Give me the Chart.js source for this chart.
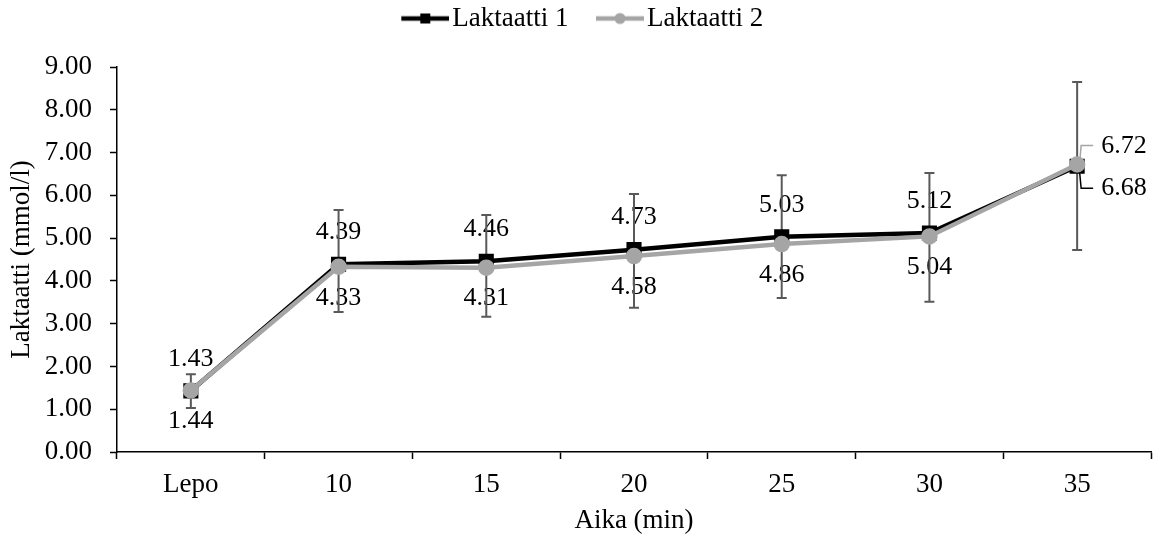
<!DOCTYPE html>
<html>
<head>
<meta charset="utf-8">
<script src="https://cdn.jsdelivr.net/npm/chart.js@4.4.0/dist/chart.umd.min.js"></script>
<style>
  body{margin:0;background:#fff;}
  #wrap{width:1163px;height:537px;position:relative;}
</style>
</head>
<body>
<div id="wrap"><canvas id="chart"></canvas></div>
<script>
// data
const categories = ['Lepo','10','15','20','25','30','35'];
const laktaatti1 = [1.43, 4.39, 4.46, 4.73, 5.03, 5.12, 6.68];
const laktaatti2 = [1.44, 4.33, 4.31, 4.58, 4.86, 5.04, 6.72];
const errHigh = [1.82, 5.66, 5.54, 6.03, 6.47, 6.52, 8.65];
const errLow  = [1.03, 3.27, 3.16, 3.37, 3.60, 3.51, 4.72];
const yTicks = [0,1,2,3,4,5,6,7,8,9];

const FONT = "'Liberation Serif', 'Times New Roman', serif";
const FSIZE = 27;
const BLACK = '#000000';
const GRAY = '#a5a5a5';
const ERRCOL = '#595959';

// legend sample: line with marker, drawn at the right side of a wider canvas
function legendIcon(color, style){
    const c = document.createElement('canvas');
    c.width = 81; c.height = 14;
    const g = c.getContext('2d');
    g.strokeStyle = color;
    g.lineWidth = 4.5;
    g.beginPath(); g.moveTo(33,7); g.lineTo(81,7); g.stroke();
    g.fillStyle = color;
    if(style == 'rect'){
        g.fillRect(52,2,10,10);
    }else{
        g.beginPath(); g.arc(57,7,5.5,0,Math.PI*2); g.fill();
    }
    return c;
}
const icon1 = legendIcon(BLACK,'rect');
const icon2 = legendIcon(GRAY,'circle');

// more room under the legend, and nudge it left a bit
const legendSpace = {
    id: 'legendSpace',
    beforeInit(chart){
        const fit = chart.legend.fit;
        chart.legend.fit = function(){
            fit.call(this);
            this.height += 25;
        };
    },
    afterLayout(chart){
        chart.legend.left -= 9;
        chart.legend.right -= 9;
    }
};

const extras = {
    id: 'extras',
    beforeDatasetsDraw(chart){
        const ctx = chart.ctx;
        const x = chart.scales.x, y = chart.scales.y;
        ctx.save();
        // data labels
        ctx.font = '26px ' + FONT;
        ctx.fillStyle = '#000';
        ctx.textBaseline = 'middle';
        const last = categories.length - 1;
        for(let i = 0; i < categories.length; i++){
            const px = x.getPixelForValue(i);
            const p1 = y.getPixelForValue(laktaatti1[i]);
            const p2 = y.getPixelForValue(laktaatti2[i]);
            if(i == last){
                ctx.textAlign = 'left';
                ctx.lineWidth = 1.5;
                ctx.strokeStyle = GRAY;
                ctx.beginPath();
                ctx.moveTo(px+2, p2+4); ctx.lineTo(px+4, p2-19); ctx.lineTo(px+16, p2-19);
                ctx.stroke();
                ctx.fillText(laktaatti2[i].toFixed(2), px+24, p2-18);
                ctx.strokeStyle = BLACK;
                ctx.beginPath();
                ctx.moveTo(px+2, p1+1); ctx.lineTo(px+4, p1+22); ctx.lineTo(px+16, p1+22);
                ctx.stroke();
                ctx.fillText(laktaatti1[i].toFixed(2), px+24, p1+22);
            }else{
                ctx.textAlign = 'center';
                ctx.fillText(laktaatti1[i].toFixed(2), px, p1-32);
                ctx.fillText(laktaatti2[i].toFixed(2), px, p2+31);
            }
        }
        // error bars
        ctx.strokeStyle = ERRCOL;
        ctx.lineWidth = 2;
        for(let i = 0; i < categories.length; i++){
            const px = x.getPixelForValue(i);
            const hi = y.getPixelForValue(errHigh[i]);
            const lo = y.getPixelForValue(errLow[i]);
            ctx.beginPath();
            ctx.moveTo(px, hi); ctx.lineTo(px, lo);
            ctx.moveTo(px-5, hi); ctx.lineTo(px+5, hi);
            ctx.moveTo(px-5, lo); ctx.lineTo(px+5, lo);
            ctx.stroke();
        }
        ctx.restore();
    }
};

new Chart(
    document.getElementById('chart'),
    {
        type: 'line',
        data: {
            labels: categories,
            datasets: [
                {
                    label: 'Laktaatti 1',
                    data: laktaatti1,
                    borderColor: BLACK,
                    backgroundColor: BLACK,
                    borderWidth: 4.5,
                    pointStyle: 'rect',
                    pointRadius: 7.5,
                    pointHoverRadius: 7.5,
                    order: 1
                },
                {
                    label: 'Laktaatti 2',
                    data: laktaatti2,
                    borderColor: GRAY,
                    backgroundColor: GRAY,
                    borderWidth: 4.5,
                    pointStyle: 'circle',
                    pointRadius: 6,
                    pointHoverRadius: 6,
                    order: 0
                }
            ]
        },
        options: {
            responsive: true,
            maintainAspectRatio: false,
            animation: false,
            layout: { padding: { left: 0, right: 3, top: 0, bottom: 0 } },
            plugins: {
                tooltip: { enabled: false },
                legend: {
                    position: 'top',
                    labels: {
                        usePointStyle: true,
                        pointStyleWidth: 60,
                        color: '#000',
                        font: { family: FONT, size: FSIZE },
                        padding: 5,
                        generateLabels: (chart) => [
                            { text: 'Laktaatti 1', pointStyle: icon1, datasetIndex: 0, fontColor: '#000', lineWidth: 0 },
                            { text: 'Laktaatti 2', pointStyle: icon2, datasetIndex: 1, fontColor: '#000', lineWidth: 0 }
                        ]
                    }
                }
            },
            scales: {
                x: {
                    offset: true,
                    grid: {
                        offset: true,
                        drawOnChartArea: false,
                        color: '#000',
                        tickLength: 7,
                        tickWidth: 1.5
                    },
                    border: { color: '#000', width: 1.5 },
                    ticks: { color: '#000', font: { family: FONT, size: FSIZE }, padding: 10 },
                    title: { display: true, text: 'Aika (min)', color: '#000', font: { family: FONT, size: FSIZE }, padding: 0 },
                    afterFit: (s) => { s.height = 85; }
                },
                y: {
                    min: 0,
                    max: 9,
                    afterBuildTicks: (s) => { s.ticks = yTicks.map(v => ({ value: v })); },
                    grid: {
                        drawOnChartArea: false,
                        color: '#000',
                        tickLength: 7,
                        tickWidth: 1.5
                    },
                    border: { color: '#000', width: 1.5 },
                    ticks: {
                        color: '#000',
                        font: { family: FONT, size: FSIZE },
                        padding: 18,
                        callback: (v) => Number(v).toFixed(2)
                    },
                    title: { display: true, text: 'Laktaatti (mmol/l)', color: '#000', font: { family: FONT, size: FSIZE }, padding: 6 },
                    afterFit: (s) => { s.width = 117; }
                }
            }
        },
        plugins: [legendSpace, extras]
    }
);
</script>
</body>
</html>
